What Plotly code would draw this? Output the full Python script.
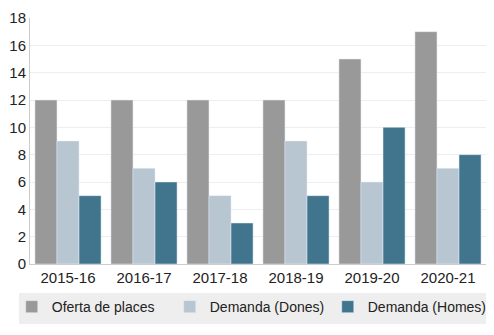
import plotly.graph_objects as go

categories = ["2015-16", "2016-17", "2017-18", "2018-19", "2019-20", "2020-21"]
oferta = [12, 12, 12, 12, 15, 17]
dones = [9, 7, 5, 9, 6, 7]
homes = [5, 6, 3, 5, 10, 8]
y_ticks = list(range(0, 19, 2))

fig = go.Figure()
fig.add_bar(name="Oferta de places", x=categories, y=oferta, marker_color="#999999")
fig.add_bar(name="Demanda (Dones)", x=categories, y=dones, marker_color="#b7c6d1")
fig.add_bar(name="Demanda (Homes)", x=categories, y=homes, marker_color="#41748d")

fig.update_layout(
    width=494, height=335,
    margin=dict(l=30, r=8, t=18, b=71),
    barmode="group", bargap=0.13, bargroupgap=0,
    plot_bgcolor="white", paper_bgcolor="white",
    font=dict(family="Liberation Sans, Arial, sans-serif", size=15, color="#222222"),
    showlegend=True,
    legend=dict(orientation="h", x=-0.04, y=-0.11, xanchor="left", yanchor="top",
                bgcolor="rgba(0,0,0,0)", entrywidth=113, entrywidthmode="pixels",
                font=dict(size=14), itemwidth=30, traceorder="normal"),
    shapes=[dict(type="rect", xref="paper", yref="paper",
                 x0=(19 - 30) / 456, x1=1.0, y0=(264 - 324) / 246, y1=(264 - 293) / 246,
                 fillcolor="#eeeeee", line=dict(width=0), layer="below")],
)
fig.update_xaxes(showline=True, linecolor="#cccccc", linewidth=1, ticks="", showgrid=False,
                 tickfont=dict(size=15))
fig.update_yaxes(range=[0, 18], tickvals=y_ticks, showgrid=True, gridcolor="#eeeeee",
                 showline=True, linecolor="#cccccc", linewidth=1, zeroline=False,
                 ticks="", tickfont=dict(size=15))

fig.write_html("out.html")
